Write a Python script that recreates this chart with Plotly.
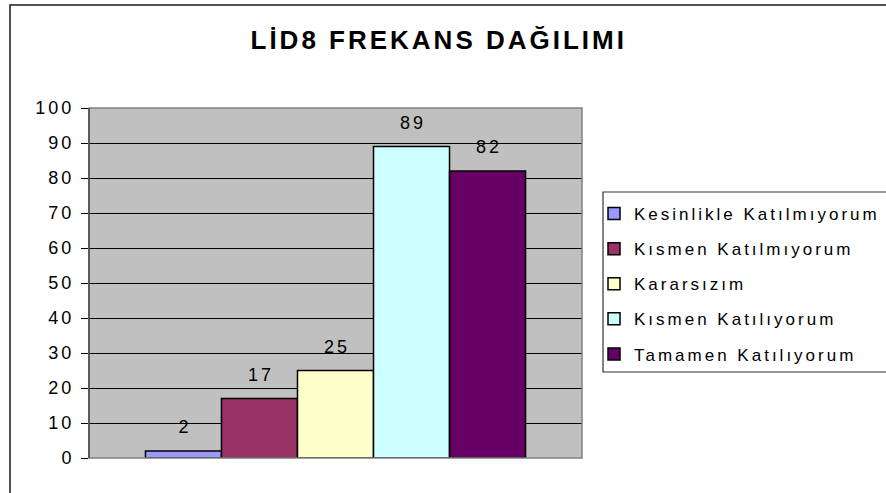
import plotly.graph_objects as go

title = "LİD8 FREKANS DAĞILIMI"
series_names = ["Kesinlikle Katılmıyorum", "Kısmen Katılmıyorum", "Kararsızım",
                "Kısmen Katılıyorum", "Tamamen Katılıyorum"]
values = [2, 17, 25, 89, 82]
colors = ["#9999FF", "#993366", "#FFFFCC", "#CCFFFF", "#660066"]
category = [""]
y_ticks = list(range(0, 101, 10))

W, H = 886, 493
L, R, T, B = 89, 304, 108, 35
pw, ph = W - L - R, H - T - B

bargap = 0.229
n = len(values)
bw = (1 - bargap) / n
FONT = "Liberation Sans, Arial"

fig = go.Figure()
for i, (name, v, c) in enumerate(zip(series_names, values, colors)):
    fig.add_trace(go.Bar(
        x=category, y=[v], name=name, legendgroup=name,
        marker=dict(color=c, line=dict(color="#000000", width=1.5)),
        hoverinfo="skip",
    ))
    fig.add_annotation(
        x=-(1 - bargap) / 2 + bw * (i + 0.5), y=v, xref="x", yref="y",
        text=str(v), showarrow=False, yshift=24, yanchor="middle", xshift=1.5,
        font=dict(family=FONT, size=18, color="#000000"),
    )

def px_x(p):
    return (p - L) / pw

def px_y(p):
    return (H - B - p) / ph

fig.update_layout(
    width=W, height=H,
    margin=dict(l=L, r=R, t=T, b=B, autoexpand=False),
    paper_bgcolor="#FFFFFF",
    plot_bgcolor="#C0C0C0",
    barmode="group", bargap=bargap, bargroupgap=0,
    showlegend=True,
    legend=dict(
        x=px_x(594), y=px_y(196), xanchor="left", yanchor="top",
        font=dict(family=FONT, size=17, color="#000000"),
        bgcolor="rgba(0,0,0,0)", borderwidth=0,
        tracegroupgap=10, traceorder="grouped",
    ),
    xaxis=dict(showticklabels=False, showgrid=False, zeroline=False, showline=False,
               ticks="", range=[-0.5, 0.5]),
    yaxis=dict(range=[0, 100], tickvals=y_ticks, ticks="outside", ticklen=7,
               tickcolor="#000000", tickwidth=1,
               showgrid=True, gridcolor="#000000", gridwidth=1,
               zeroline=False, showline=False,
               ticklabelstandoff=3,
               tickfont=dict(family=FONT, size=18, color="#000000")),
    annotations=list(fig.layout.annotations) + [
        dict(text="<b>" + title + "</b>", x=px_x(438), y=px_y(40), xref="paper", yref="paper",
             showarrow=False, xanchor="center", yanchor="middle",
             font=dict(family=FONT, size=26, color="#000000")),
    ],
    shapes=[
        dict(type="rect", xref="paper", yref="paper", x0=px_x(10), x1=px_x(892),
             y0=px_y(500), y1=px_y(5), line=dict(color="#1a1a1a", width=1.5), layer="below"),
        dict(type="rect", xref="paper", yref="paper", x0=0, x1=1, y0=0, y1=1,
             line=dict(color="#808080", width=1.5), layer="above"),
        dict(type="line", xref="paper", yref="paper", x0=0, x1=0, y0=0, y1=1,
             line=dict(color="#333333", width=1.2), layer="above"),
        dict(type="rect", xref="paper", yref="paper", x0=px_x(603), x1=px_x(892),
             y0=px_y(372), y1=px_y(192), line=dict(color="#333333", width=1.2)),
    ],
)

post = (
    "document.body.style.margin='0';"
    "var g=document.getElementById('{plot_id}');"
    "g.querySelectorAll('text').forEach(function(t){t.style.letterSpacing='3px';});"
    "g.querySelectorAll('.legend, .legend *').forEach(function(e){e.removeAttribute('clip-path');});"
)
fig.write_html("out.html", post_script=post, config={"displayModeBar": False})
